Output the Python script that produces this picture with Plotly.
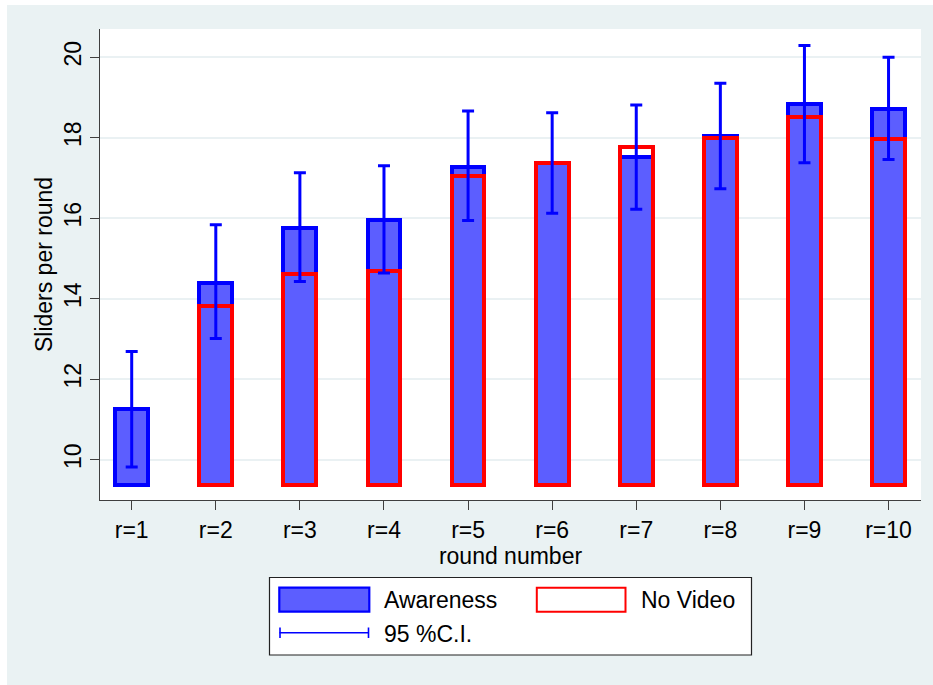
import plotly.graph_objects as go

rounds = ["r=1", "r=2", "r=3", "r=4", "r=5", "r=6", "r=7", "r=8", "r=9", "r=10"]
awareness = [11.26, 14.40, 15.76, 15.96, 17.28, 17.37, 17.51, 18.05, 18.84, 18.72]
no_video = [None, 13.81, 14.62, 14.68, 17.05, 17.36, 17.77, 18.00, 18.52, 17.97]
ci_high = [12.69, 15.84, 17.13, 17.30, 18.66, 18.62, 18.81, 19.35, 20.29, 20.00]
ci_low = [9.82, 13.01, 14.43, 14.64, 15.94, 16.12, 16.22, 16.73, 17.38, 17.46]
BASE = 9.37
y_ticks = [10, 12, 14, 16, 18, 20]

W, H = 933, 685
ML, MR, MT, MB = 100, 12, 29, 185
PW, PH = W - ML - MR, H - MT - MB

def px(x):
    return (x - ML) / PW

def py(y):
    return (H - MB - y) / PH

FONT = "Liberation Sans, Arial, Helvetica, sans-serif"
BLUE = "#0000FF"
FILL = "#5C5EFF"
RED = "#FF0000"
BG = "#EAF2F3"
AX = "#3F3F3F"

xs = list(range(len(rounds)))

fig = go.Figure()
fig.add_trace(go.Bar(
    x=xs, y=[v - BASE for v in awareness], base=BASE, width=0.39,
    marker=dict(color=FILL, line=dict(color=BLUE, width=4)),
    name="Awareness", showlegend=False, hoverinfo="skip"))
fig.add_trace(go.Bar(
    x=xs, y=[(v - BASE) if v is not None else None for v in no_video], base=BASE, width=0.39,
    marker=dict(color="rgba(0,0,0,0)", line=dict(color=RED, width=4)),
    name="No Video", showlegend=False, hoverinfo="skip"))
fig.add_trace(go.Scatter(
    x=xs, y=awareness, mode="markers",
    marker=dict(size=1, opacity=0),
    error_y=dict(type="data", symmetric=False,
                 array=[h - m for h, m in zip(ci_high, awareness)],
                 arrayminus=[m - l for m, l in zip(awareness, ci_low)],
                 color=BLUE, thickness=3, width=6),
    showlegend=False, hoverinfo="skip"))

shapes = [
    dict(type="rect", xref="paper", yref="paper", x0=px(7), x1=px(W + 5), y0=py(H + 5), y1=py(5),
         fillcolor=BG, line=dict(width=0), layer="below"),
    dict(type="rect", xref="paper", yref="paper", x0=0, x1=1, y0=0, y1=1,
         fillcolor="white", line=dict(width=0), layer="below"),
    # legend box
    dict(type="rect", xref="paper", yref="paper", x0=px(269.5), x1=px(751.5), y0=py(655), y1=py(577.5),
         fillcolor="white", line=dict(color="#222222", width=1.2), layer="above"),
    dict(type="rect", xref="paper", yref="paper", x0=px(279.3), x1=px(369.3), y0=py(611.7), y1=py(587.7),
         fillcolor=FILL, line=dict(color=BLUE, width=2.2), layer="above"),
    dict(type="rect", xref="paper", yref="paper", x0=px(536.8), x1=px(625.5), y0=py(611.7), y1=py(587.7),
         fillcolor="white", line=dict(color=RED, width=2), layer="above"),
    dict(type="line", xref="paper", yref="paper", x0=px(279.5), x1=px(369), y0=py(632.7), y1=py(632.7),
         line=dict(color=BLUE, width=1.6), layer="above"),
    dict(type="line", xref="paper", yref="paper", x0=px(280), x1=px(280), y0=py(638), y1=py(627.5),
         line=dict(color=BLUE, width=1.6), layer="above"),
    dict(type="line", xref="paper", yref="paper", x0=px(368.5), x1=px(368.5), y0=py(638), y1=py(627.5),
         line=dict(color=BLUE, width=1.6), layer="above"),
]

annotations = [
    dict(text="Awareness", x=px(382), y=py(600), xref="paper", yref="paper",
         xanchor="left", yanchor="middle", showarrow=False, font=dict(size=23, color="black", family=FONT)),
    dict(text="No Video", x=px(639), y=py(600), xref="paper", yref="paper",
         xanchor="left", yanchor="middle", showarrow=False, font=dict(size=23, color="black", family=FONT)),
    dict(text="95 %C.I.", x=px(382), y=py(634), xref="paper", yref="paper",
         xanchor="left", yanchor="middle", showarrow=False, font=dict(size=23, color="black", family=FONT)),
]

fig.update_layout(
    width=W, height=H, autosize=False,
    margin=dict(l=ML, r=MR, t=MT, b=MB, pad=0),
    paper_bgcolor="white", plot_bgcolor="white",
    barmode="overlay", bargap=0,
    font=dict(family=FONT, size=23, color="black"),
    shapes=shapes, annotations=annotations,
    xaxis=dict(range=[-0.377, 9.386], tickvals=xs, ticktext=rounds,
               showgrid=False, zeroline=False, showline=True, linecolor=AX, linewidth=1.3,
               ticks="outside", ticklen=9, tickwidth=1.3, tickcolor=AX,
               tickfont=dict(size=23, color="black"),
               title=dict(text="round number", font=dict(size=23, color="black"), standoff=2),
               fixedrange=True),
    yaxis=dict(range=[9.0, 20.7], tickvals=y_ticks, tickangle=-90,
               showgrid=True, gridcolor="#EAF1F3", gridwidth=1.5, zeroline=False,
               showline=True, linecolor=AX, linewidth=1.3,
               ticks="outside", ticklen=9, tickwidth=1.3, tickcolor=AX,
               tickfont=dict(size=23, color="black"),
               title=dict(text="Sliders per round", font=dict(size=23, color="black"), standoff=0),
               fixedrange=True),
)

fig.write_html("out.html", config={"displayModeBar": False})
